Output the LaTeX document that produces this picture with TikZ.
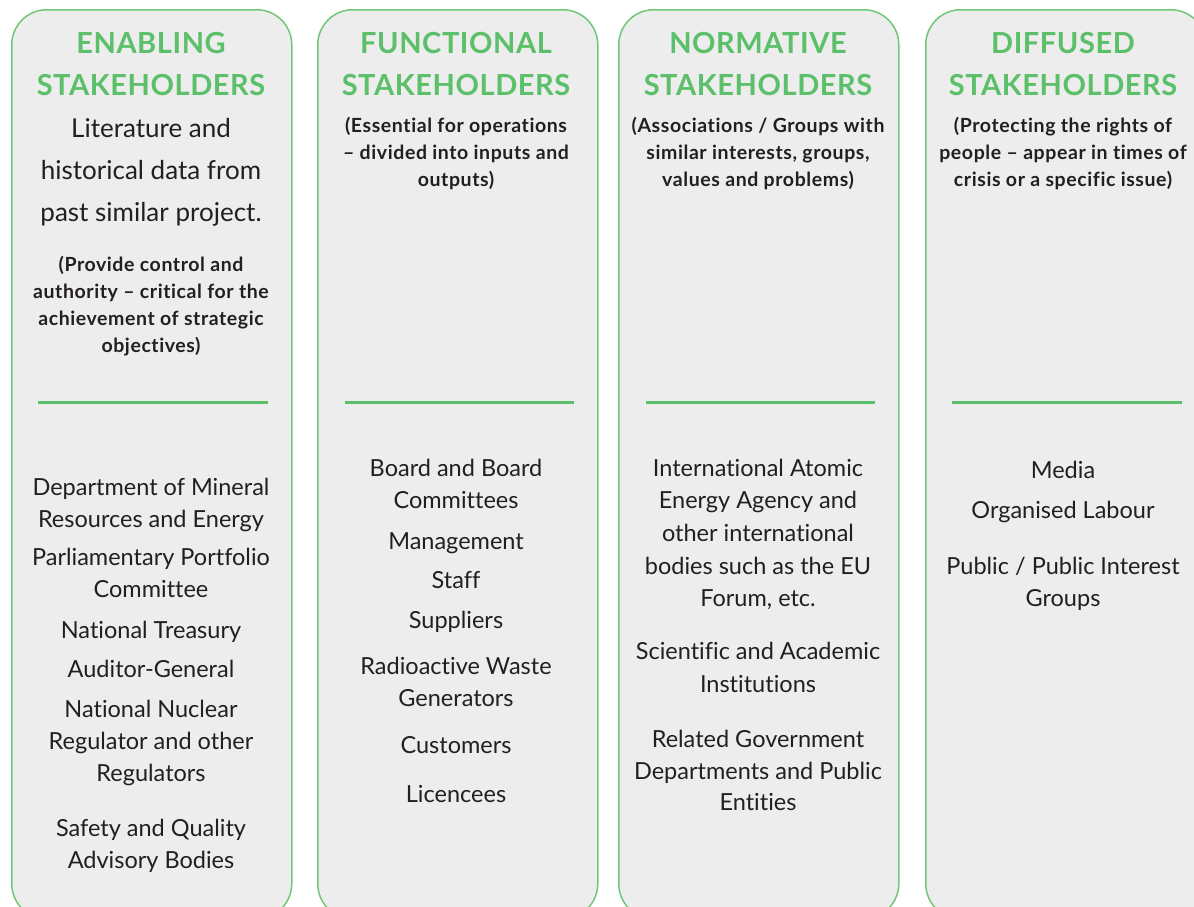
\documentclass[tikz,border=0pt]{standalone}
\usepackage{fontspec}
\setmainfont{Lato}[Ligatures=NoCommon]
\newfontfamily\notefont{Lato}[Ligatures=NoCommon, LetterSpace=3]
\newfontfamily\headfont{Lato}[Ligatures=NoCommon, LetterSpace=2]
\definecolor{panelgrey}{HTML}{ECEDEC}
\definecolor{bordergreen}{HTML}{72C67A}
\definecolor{headgreen}{HTML}{5CBF6A}
\definecolor{inktext}{HTML}{231F20}
\tikzset{
  panel/.style={draw=bordergreen, fill=panelgrey, line width=1.5pt,
    rounded corners=35pt, minimum width=280pt, minimum height=909pt,
    inner sep=0pt, anchor=north west},
  rule/.style={draw=headgreen, line width=3pt},
  txt/.style={anchor=base, inner sep=0pt, text=inktext},
  head/.style={txt, text=headgreen, font=\headfont\fontsize{29}{30}\selectfont\bfseries},
  intro/.style={txt, font=\fontsize{26}{28}\selectfont},
  note/.style={txt, font=\notefont\fontsize{19.5}{21}\selectfont\bfseries},
  item/.style={txt, font=\fontsize{23.5}{26}\selectfont},
}
\begin{document}
\begin{tikzpicture}[x=1pt, y=-1pt]
\useasboundingbox (0,0) rectangle (1194,906);
\clip (0,0) rectangle (1194,906);

% four stakeholder panels
\node[panel] (p1) at (11,9) {};
\node[panel] (p2) at (317,9) {};
\node[panel] (p3) at (618,9) {};
\node[panel] (p4) at (925,9) {};

% green separators
\draw[rule] (38,402) -- (268,402);
\draw[rule] (345,402) -- (574,402);
\draw[rule] (646,402) -- (875,402);
\draw[rule] (952,402) -- (1182,402);

% ---------- Enabling ----------
\node[head] (h1a) at (151,53) {ENABLING};
\node[head] (h1b) at (151,95) {STAKEHOLDERS};
\node[intro] (i1a) at (151,137) {Literature and};
\node[intro] (i1b) at (151,179) {historical data from};
\node[intro] (i1c) at (151,221) {past similar project.};
\node[note] (n1a) at (151,271) {(Provide control and};
\node[note] (n1b) at (151,298) {authority – critical for the};
\node[note] (n1c) at (151,325) {achievement of strategic};
\node[note] (n1d) at (151,352) {objectives)};
\node[item] (e1) at (151,495) {Department of Mineral};
\node[item] (e2) at (151,527) {Resources and Energy};
\node[item] (e3) at (151,565) {Parliamentary Portfolio};
\node[item] (e4) at (151,597) {Committee};
\node[item] (e5) at (151,638) {National Treasury};
\node[item] (e6) at (151,677) {Auditor-General};
\node[item] (e7) at (151,717) {National Nuclear};
\node[item] (e8) at (151,749) {Regulator and other};
\node[item] (e9) at (151,781) {Regulators};
\node[item] (e10) at (151,836) {Safety and Quality};
\node[item] (e11) at (151,868) {Advisory Bodies};

% ---------- Functional ----------
\node[head] (h2a) at (456,53) {FUNCTIONAL};
\node[head] (h2b) at (456,95) {STAKEHOLDERS};
\node[note] (n2a) at (456,132) {(Essential for operations};
\node[note] (n2b) at (456,159) {– divided into inputs and};
\node[note] (n2c) at (456,186) {outputs)};
\node[item] (f1) at (456,476) {Board and Board};
\node[item] (f2) at (456,508) {Committees};
\node[item] (f3) at (456,549) {Management};
\node[item] (f4) at (456,588) {Staff};
\node[item] (f5) at (456,628) {Suppliers};
\node[item] (f6) at (456,674) {Radioactive Waste};
\node[item] (f7) at (456,706) {Generators};
\node[item] (f8) at (456,753) {Customers};
\node[item] (f9) at (456,802) {Licencees};

% ---------- Normative ----------
\node[head] (h3a) at (758,53) {NORMATIVE};
\node[head] (h3b) at (758,95) {STAKEHOLDERS};
\node[note] (n3a) at (758,132) {(Associations / Groups with};
\node[note] (n3b) at (758,159) {similar interests, groups,};
\node[note] (n3c) at (758,186) {values and problems)};
\node[item] (m1) at (758,476) {International Atomic};
\node[item] (m2) at (758,508) {Energy Agency and};
\node[item] (m3) at (758,541) {other international};
\node[item] (m4) at (758,574) {bodies such as the EU};
\node[item] (m5) at (758,606) {Forum, etc.};
\node[item] (m6) at (758,659) {Scientific and Academic};
\node[item] (m7) at (758,692) {Institutions};
\node[item] (m8) at (758,747) {Related Government};
\node[item] (m9) at (758,779) {Departments and Public};
\node[item] (m10) at (758,810) {Entities};

% ---------- Diffused ----------
\node[head] (h4a) at (1063,53) {DIFFUSED};
\node[head] (h4b) at (1063,95) {STAKEHOLDERS};
\node[note] (n4a) at (1063,132) {(Protecting the rights of};
\node[note] (n4b) at (1063,159) {people – appear in times of};
\node[note] (n4c) at (1063,186) {crisis or a specific issue)};
\node[item] (d1) at (1063,478) {Media};
\node[item] (d2) at (1063,518) {Organised Labour};
\node[item] (d3) at (1063,574) {Public / Public Interest};
\node[item] (d4) at (1063,606) {Groups};
\end{tikzpicture}
\end{document}
